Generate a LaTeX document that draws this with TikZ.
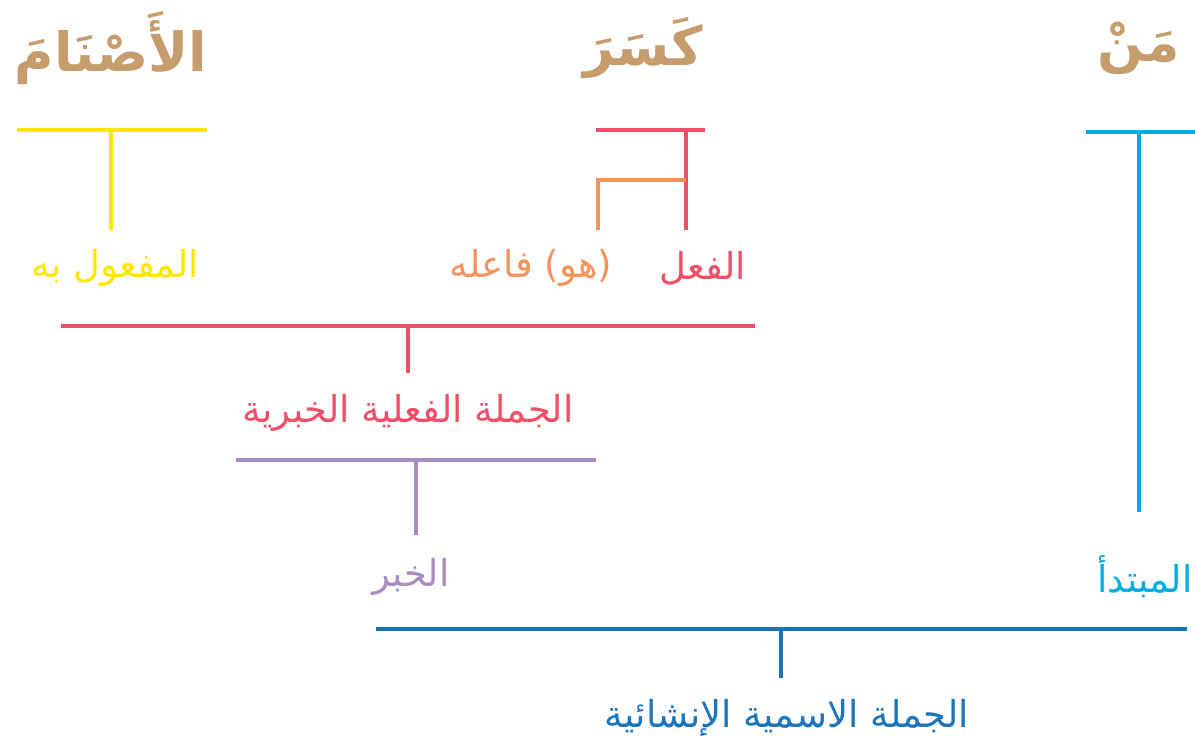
\documentclass[tikz,border=0pt]{standalone}
\usepackage{fontspec}
\newfontfamily\arabicfont[Script=Arabic]{DejaVu Sans}
\TeXXeTstate=1
\definecolor{tan}{HTML}{C69C6D}
\definecolor{cyel}{HTML}{FFE600}
\definecolor{cred}{HTML}{EF5068}
\definecolor{corg}{HTML}{F4935A}
\definecolor{ccyan}{HTML}{00AEDF}
\definecolor{cpur}{HTML}{AA8BC0}
\definecolor{cblue}{HTML}{1B75BB}
\tikzset{
  word/.style={inner sep=0pt, text=tan, font=\arabicfont\bfseries\fontsize{54}{60}\selectfont},
  lab/.style={inner sep=0pt, font=\arabicfont\fontsize{37}{44}\selectfont},
  br/.style={line width=4pt}
}
\begin{document}
\begin{tikzpicture}[x=1pt,y=-1pt]
\useasboundingbox (0,0) rectangle (1195,749);
% top words
\node[word] (w1) at (111,48) {\beginR الأَصْنَامَ\endR};
\node[word] (w2) at (643,48) {\beginR كَسَرَ\endR};
\node[word] (w3) at (1139,48) {\beginR مَنْ\endR};
% yellow
\coordinate (y1) at (17,130); \coordinate (y2) at (207,130);
\coordinate (ym) at (111,130); \coordinate (yb) at (111,230);
\draw[br,cyel] (y1) -- (y2); \draw[br,cyel] (ym) -- (yb);
\node[lab,text=cyel] (maf) at (115,268) {\beginR المفعول به\endR};
% red verb
\coordinate (r1) at (596,130); \coordinate (r2) at (705,130);
\coordinate (rm) at (686,130); \coordinate (rb) at (686,230);
\coordinate (ro) at (686,180);
\draw[br,cred] (r1) -- (r2); \draw[br,cred] (rm) -- (rb);
\coordinate (o1) at (598,180); \coordinate (ob) at (598,230);
\draw[br,corg] (ro) -- (o1) -- (ob);
\node[lab,text=cred] (fil) at (703,268) {\beginR الفعل\endR};
\node[lab,text=corg] (fae) at (531,268) {\beginR (هو) فاعله\endR};
% cyan
\coordinate (c1) at (1086,132); \coordinate (c2) at (1195,132);
\coordinate (cm) at (1139,132); \coordinate (cb) at (1139,512);
\draw[br,ccyan] (c1) -- (c2); \draw[br,ccyan] (cm) -- (cb);
\node[lab,text=ccyan] (mub) at (1145,577) {\beginR المبتدأ\endR};
% red middle
\coordinate (m1) at (61,326); \coordinate (m2) at (755,326);
\coordinate (mm) at (408,326); \coordinate (mb) at (408,373);
\draw[br,cred] (m1) -- (m2); \draw[br,cred] (mm) -- (mb);
\node[lab,text=cred] (jf) at (408,413) {\beginR الجملة الفعلية الخبرية\endR};
% purple
\coordinate (p1) at (236,460); \coordinate (p2) at (596,460);
\coordinate (pm) at (416,460); \coordinate (pb) at (416,535);
\draw[br,cpur] (p1) -- (p2); \draw[br,cpur] (pm) -- (pb);
\node[lab,text=cpur] (kh) at (411,577) {\beginR الخبر\endR};
% blue
\coordinate (b1) at (376,629); \coordinate (b2) at (1187,629);
\coordinate (bm) at (781,629); \coordinate (bb) at (781,678);
\draw[br,cblue] (b1) -- (b2); \draw[br,cblue] (bm) -- (bb);
\node[lab,text=cblue] (ji) at (787,718) {\beginR الجملة الاسمية الإنشائية\endR};
\end{tikzpicture}
\end{document}
